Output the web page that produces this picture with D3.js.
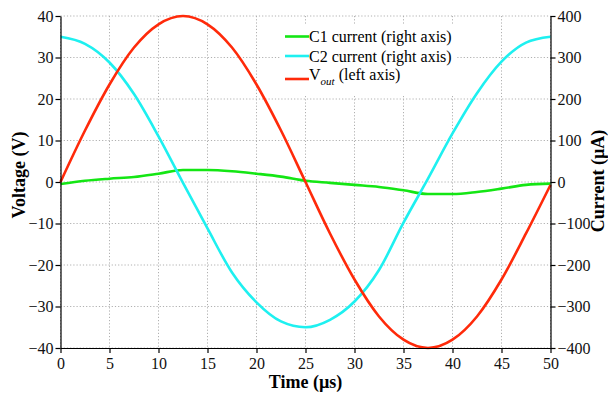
<!DOCTYPE html>
<html>
<head>
<meta charset="utf-8">
<script src="https://cdn.jsdelivr.net/npm/d3@7"></script>
<style>
  body { margin: 0; background: #fff; }
  svg { display: block; font-family: "Liberation Serif", "Times New Roman", serif; }
</style>
</head>
<body>
<div id="chart"></div>
<script>
// values
const timeTicks = [0, 5, 10, 15, 20, 25, 30, 35, 40, 45, 50];
const voltTicks = [-40, -30, -20, -10, 0, 10, 20, 30, 40];
const currTicks = [-400, -300, -200, -100, 0, 100, 200, 300, 400];

// sample times (µs)
const sampleTime = [0, 2.5, 5, 7.5, 10, 12.5, 15, 17.5, 20, 22.5, 25, 27.5, 30, 32.5, 35, 37.5, 40, 42.5, 45, 47.5, 50];

// C1 current (µA, right axis)
const c1Curr = [-5, 3, 8, 12, 20, 29, 29, 26, 20, 13, 3, -2, -7, -12, -20, -29, -29, -24, -16, -7, -4];

// C2 current (µA, right axis)
const c2Curr = [350, 333, 288, 212, 110, -2, -112, -218, -290, -336, -350, -332, -288, -212, -98, 8, 117, 214, 290, 336, 350];

// Vout (V, left axis)
const voutVolt = [0, 12.4, 23.5, 32.4, 38, 40, 38, 32.4, 23.5, 12.4, 0, -12.4, -23.5, -32.4, -38, -40, -38, -32.4, -23.5, -12.4, -0.7];

const W = 608, H = 394;
const margin = { top: 16, right: 57.5, bottom: 46, left: 60.5 };
const width = W - margin.left - margin.right;
const height = H - margin.top - margin.bottom;

const svg = d3.select("#chart").append("svg")
  .attr("width", W)
  .attr("height", H);

const g = svg.append("g")
  .attr("transform", `translate(${margin.left},${margin.top})`);

const x = d3.scaleLinear().domain([0, 50]).range([0, width]);
const yV = d3.scaleLinear().domain([-40, 40]).range([height, 0]);
const yI = d3.scaleLinear().domain([-400, 400]).range([height, 0]);

// dotted grid
const grid = g.append("g")
  .attr("stroke", "#b0b0b0")
  .attr("stroke-width", 1)
  .attr("stroke-dasharray", "1.2,2");

grid.selectAll("line.v")
  .data(timeTicks)
  .enter().append("line")
  .attr("x1", d => x(d)).attr("x2", d => x(d))
  .attr("y1", 0).attr("y2", height);

grid.selectAll("line.h")
  .data(voltTicks)
  .enter().append("line")
  .attr("x1", 0).attr("x2", width)
  .attr("y1", d => yV(d)).attr("y2", d => yV(d));

// series
const series = [
  { name: "C1", v: c1Curr, y: yI, color: "#14e614" },
  { name: "C2", v: c2Curr, y: yI, color: "#1ef0f0" },
  { name: "Vout", v: voutVolt, y: yV, color: "#ff2a0a" }
];

series.forEach(s => {
  const pts = sampleTime.map((t, i) => [t, s.v[i]]);
  const line = d3.line()
    .x(d => x(d[0]))
    .y(d => s.y(d[1]))
    .curve(d3.curveMonotoneX);
  g.append("path")
    .datum(pts)
    .attr("fill", "none")
    .attr("stroke", s.color)
    .attr("stroke-width", 2.6)
    .attr("stroke-linejoin", "round")
    .attr("d", line);
});

// axes
function styleAxis(sel) {
  sel.select(".domain").attr("stroke", "#000").attr("stroke-width", 1.2);
  sel.selectAll(".tick line").attr("stroke", "#000").attr("stroke-width", 1.2);
  sel.selectAll(".tick text")
    .attr("fill", "#111")
    .style("font-size", "16px")
    .style("font-family", "'Liberation Serif', 'Times New Roman', serif");
}

g.append("g")
  .call(d3.axisLeft(yV).tickValues(voltTicks).tickSize(5).tickPadding(2).tickSizeOuter(0))
  .call(styleAxis);

g.append("g")
  .attr("transform", `translate(${width},0)`)
  .call(d3.axisRight(yI).tickValues(currTicks).tickSize(5).tickPadding(2).tickSizeOuter(0))
  .call(styleAxis);

g.append("g")
  .attr("transform", `translate(0,${height})`)
  .call(d3.axisBottom(x).tickValues(timeTicks).tickSize(5).tickPadding(5).tickSizeOuter(0))
  .call(styleAxis);

// axis titles
svg.append("text")
  .attr("x", margin.left + x(25))
  .attr("y", 388)
  .attr("text-anchor", "middle")
  .style("font-size", "18px")
  .style("font-weight", "bold")
  .text("Time (µs)");

svg.append("text")
  .attr("transform", "translate(25,175) rotate(-90)")
  .attr("text-anchor", "middle")
  .style("font-size", "18px")
  .style("font-weight", "bold")
  .text("Voltage (V)");

svg.append("text")
  .attr("transform", "translate(604,181) rotate(-90)")
  .attr("text-anchor", "middle")
  .style("font-size", "18px")
  .style("font-weight", "bold")
  .text("Current (µA)");

// legend
const legend = svg.append("g");
legend.append("rect")
  .attr("x", 281).attr("y", 24)
  .attr("width", 176).attr("height", 72)
  .attr("fill", "#fff");

const legendRows = [
  { label: "C1 current (right axis)", color: series[0].color, y: 36.5 },
  { label: "C2 current (right axis)", color: series[1].color, y: 56 },
  { label: null, color: series[2].color, y: 79 }
];

legendRows.forEach(r => {
  legend.append("line")
    .attr("x1", 285).attr("x2", 309)
    .attr("y1", r.y).attr("y2", r.y)
    .attr("stroke", r.color)
    .attr("stroke-width", 2.6);
});

legend.append("text").attr("x", 309).attr("y", 42).style("font-size", "16px").text(legendRows[0].label);
legend.append("text").attr("x", 309).attr("y", 61.5).style("font-size", "16px").text(legendRows[1].label);

const vt = legend.append("text").attr("x", 309).attr("y", 80).style("font-size", "16px");
vt.append("tspan").text("V");
vt.append("tspan").attr("dy", 5).style("font-size", "11px").style("font-style", "italic").text("out");
vt.append("tspan").attr("dy", -5).text(" (left axis)");
</script>
</body>
</html>
